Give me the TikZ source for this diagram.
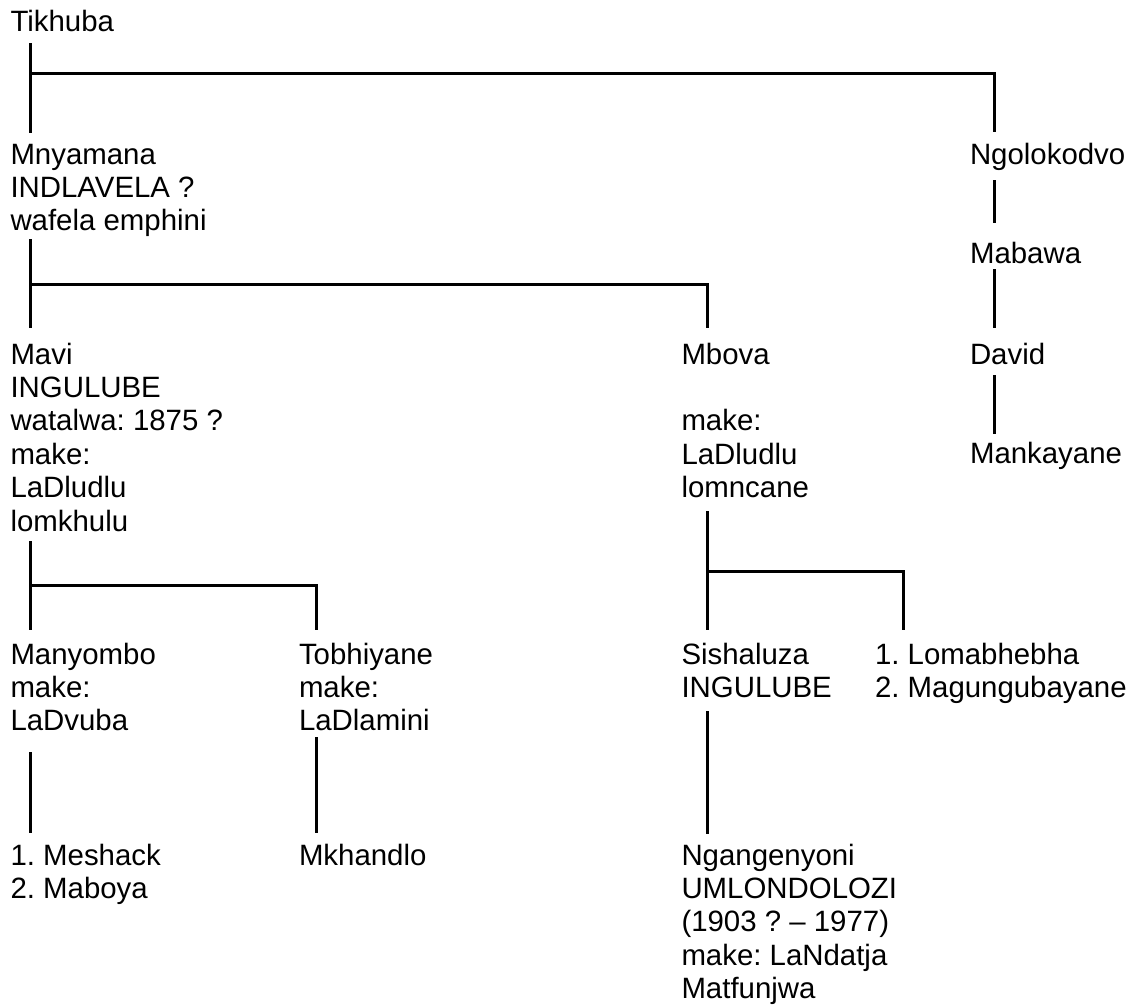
\documentclass[tikz,border=0pt]{standalone}
\usepackage{fontspec}
\setmainfont{Liberation Sans}
\newcommand{\stk}[1]{\vtop{#1}}
\begin{document}
\frenchspacing
\begin{tikzpicture}[x=1pt,y=-1pt,
  txt/.style={anchor=base west, inner sep=0pt, outer sep=0pt, font=\fontsize{29.4}{33.4}\selectfont\frenchspacing},
  conn/.style={line width=3pt, line join=miter, line cap=butt, draw=black}]
\useasboundingbox (0,0) rectangle (1135,1004);
% nodes
\node[txt] (tik)  at (10.5,31)  {Tikhuba};
\node[txt] (mny)  at (10.5,164) {\stk{\hbox{Mnyamana}\hbox{INDLAVELA ?}\hbox{wafela emphini}}};
\node[txt] (ngo)  at (970,164)  {Ngolokodvo};
\node[txt] (mab)  at (970,263)  {Mabawa};
\node[txt] (mavi) at (10.5,364) {\stk{\hbox{Mavi}\hbox{INGULUBE}\hbox{watalwa: 1875 ?}\hbox{make:}\hbox{LaDludlu}\hbox{lomkhulu}}};
\node[txt] (mbo)  at (681.5,364) {\stk{\hbox{Mbova}\hbox{}\hbox{make:}\hbox{LaDludlu}\hbox{lomncane}}};
\node[txt] (dav)  at (970,364)  {David};
\node[txt] (mank) at (970,463)  {Mankayane};
\node[txt] (many) at (10.5,664) {\stk{\hbox{Manyombo}\hbox{make:}\hbox{LaDvuba}}};
\node[txt] (tob)  at (299,664)  {\stk{\hbox{Tobhiyane}\hbox{make:}\hbox{LaDlamini}}};
\node[txt] (sis)  at (681.5,664) {\stk{\hbox{Sishaluza}\hbox{INGULUBE}}};
\node[txt] (lom)  at (875,664)  {\stk{\hbox{1. Lomabhebha}\hbox{2. Magungubayane}}};
\node[txt] (mesh) at (10.5,865) {\stk{\hbox{1. Meshack}\hbox{2. Maboya}}};
\node[txt] (mkh)  at (299,865)  {Mkhandlo};
\node[txt] (nga)  at (681.5,865) {\stk{\hbox{Ngangenyoni}\hbox{UMLONDOLOZI}\hbox{(1903 ? – 1977)}\hbox{make: LaNdatja}\hbox{Matfunjwa}}};
% connector end points
\coordinate (tikS) at (30,43);   \coordinate (tikE) at (30,133);
\coordinate (tikJ) at (30,73);   \coordinate (ngoT) at (994,132);
\coordinate (ngoS) at (994,180); \coordinate (mabT) at (994,223);
\coordinate (mabS) at (994,269); \coordinate (davT) at (994,328);
\coordinate (davS) at (994,375); \coordinate (mankT) at (994,434);
\coordinate (mnyS) at (30,239);  \coordinate (maviT) at (30,328);
\coordinate (mnyJ) at (30,284);  \coordinate (mboT) at (707,328);
\coordinate (maviS) at (30,541); \coordinate (manyT) at (30,630);
\coordinate (maviJ) at (30,585); \coordinate (tobT) at (316,630);
\coordinate (mboS) at (707,511); \coordinate (sisT) at (707,630);
\coordinate (mboJ) at (707,571); \coordinate (lomT) at (903,630);
\coordinate (manyS) at (30,752); \coordinate (meshT) at (30,833);
\coordinate (tobS) at (316,737); \coordinate (mkhT) at (316,833);
\coordinate (sisS) at (707,711); \coordinate (ngaT) at (707,834);
% connectors
\draw[conn] (tikS) -- (tikE);
\draw[conn] (tikJ) -| (ngoT);
\draw[conn] (ngoS) -- (mabT);
\draw[conn] (mabS) -- (davT);
\draw[conn] (davS) -- (mankT);
\draw[conn] (mnyS) -- (maviT);
\draw[conn] (mnyJ) -| (mboT);
\draw[conn] (maviS) -- (manyT);
\draw[conn] (maviJ) -| (tobT);
\draw[conn] (mboS) -- (sisT);
\draw[conn] (mboJ) -| (lomT);
\draw[conn] (manyS) -- (meshT);
\draw[conn] (tobS) -- (mkhT);
\draw[conn] (sisS) -- (ngaT);
\end{tikzpicture}
\end{document}
